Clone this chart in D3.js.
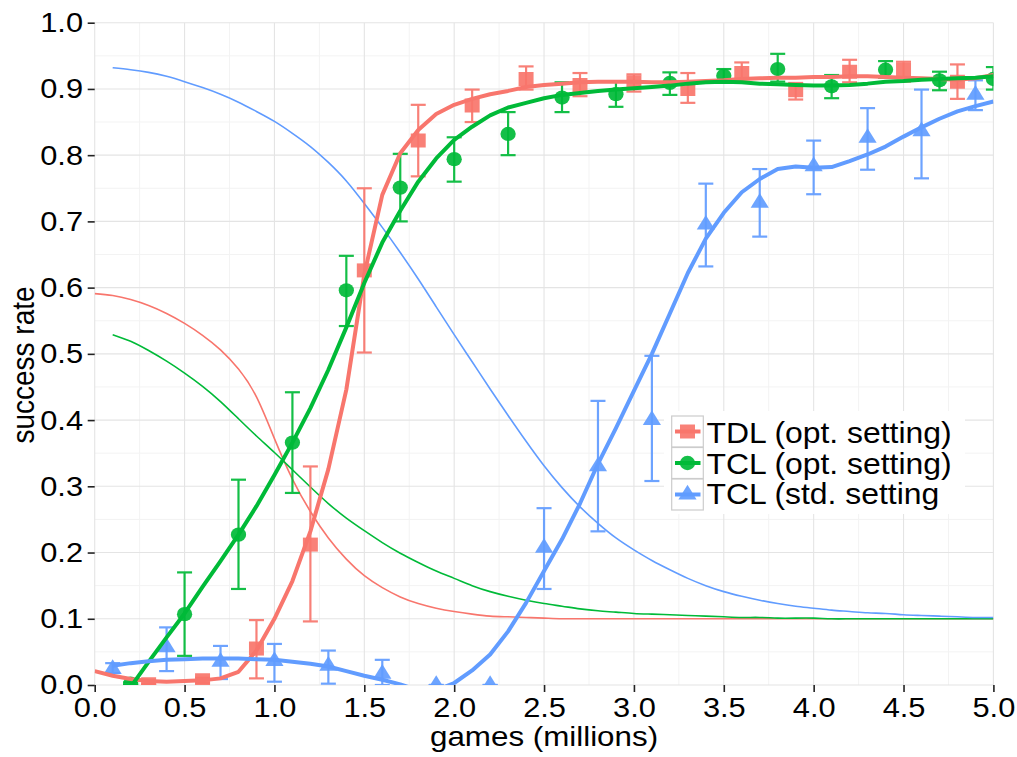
<!DOCTYPE html>
<html>
<head>
<meta charset="utf-8">
<script src="https://cdn.jsdelivr.net/npm/d3@7"></script>
<style>
  body { margin: 0; background: #fff; }
  svg { display: block; font-family: "Liberation Sans", Arial, Helvetica, sans-serif; }
</style>
</head>
<body>
<div id="plot"></div>
<script>
// Points with error bars.
const tdlX  = [0.3, 0.6, 0.9, 1.2, 1.5, 1.8, 2.1, 2.4, 2.7, 3.0, 3.3, 3.6, 3.9, 4.2, 4.5, 4.8];
const tdlY  = [0.001, 0.007, 0.055, 0.212, 0.626, 0.822, 0.875, 0.915, 0.906, 0.910, 0.900, 0.924, 0.898, 0.926, 0.929, 0.911];
const tdlLo = [0.000, 0.003, 0.010, 0.096, 0.502, 0.768, 0.850, 0.899, 0.889, 0.896, 0.879, 0.910, 0.884, 0.910, 0.911, 0.885];
const tdlHi = [0.002, 0.011, 0.098, 0.330, 0.750, 0.876, 0.899, 0.934, 0.924, 0.922, 0.924, 0.940, 0.909, 0.944, 0.941, 0.937];

const tclOptX  = [0.2, 0.5, 0.8, 1.1, 1.4, 1.7, 2.0, 2.3, 2.6, 2.9, 3.2, 3.5, 3.8, 4.1, 4.4, 4.7, 5.0];
const tclOptY  = [0.002, 0.107, 0.227, 0.366, 0.596, 0.751, 0.794, 0.832, 0.887, 0.892, 0.909, 0.920, 0.930, 0.904, 0.929, 0.913, 0.915];
const tclOptLo = [0.000, 0.044, 0.145, 0.290, 0.542, 0.700, 0.760, 0.800, 0.865, 0.873, 0.891, 0.910, 0.911, 0.886, 0.917, 0.898, 0.899];
const tclOptHi = [0.004, 0.170, 0.310, 0.442, 0.648, 0.802, 0.827, 0.865, 0.910, 0.911, 0.925, 0.930, 0.953, 0.921, 0.942, 0.926, 0.933];

const tclStdX  = [0.1, 0.4, 0.7, 1.0, 1.3, 1.6, 1.9, 2.2, 2.5, 2.8, 3.1, 3.4, 3.7, 4.0, 4.3, 4.6, 4.9];
const tclStdY  = [0.024, 0.057, 0.035, 0.036, 0.029, 0.017, 0.000, 0.000, 0.207, 0.330, 0.400, 0.695, 0.728, 0.783, 0.826, 0.836, 0.891];
const tclStdLo = [0.018, 0.021, 0.009, 0.005, 0.002, 0.000, 0.000, 0.000, 0.145, 0.232, 0.308, 0.632, 0.677, 0.741, 0.778, 0.765, 0.868];
const tclStdHi = [0.033, 0.087, 0.059, 0.062, 0.052, 0.038, 0.000, 0.000, 0.267, 0.429, 0.497, 0.757, 0.779, 0.822, 0.871, 0.899, 0.913];

// Curves sampled every 0.1 million games (null = no curve there).
const curveX = [0.0, 0.1, 0.2, 0.3, 0.4, 0.5, 0.6, 0.7, 0.8, 0.9, 1.0, 1.1, 1.2, 1.3, 1.4, 1.5, 1.6, 1.7, 1.8, 1.9,
  2.0, 2.1, 2.2, 2.3, 2.4, 2.5, 2.6, 2.7, 2.8, 2.9, 3.0, 3.1, 3.2, 3.3, 3.4, 3.5, 3.6, 3.7, 3.8, 3.9,
  4.0, 4.1, 4.2, 4.3, 4.4, 4.5, 4.6, 4.7, 4.8, 4.9, 5.0];

// thick smoothed success curves
const tdlSmooth = [0.021, 0.014, 0.009, 0.006, 0.005, 0.006, 0.007, 0.010, 0.020, 0.052, 0.100, 0.157, 0.232, 0.326, 0.446, 0.620, 0.740, 0.803, 0.838, 0.862,
  0.876, 0.885, 0.892, 0.897, 0.903, 0.906, 0.908, 0.910, 0.911, 0.911, 0.911, 0.910, 0.910, 0.911, 0.912, 0.913, 0.915, 0.916, 0.917, 0.917,
  0.918, 0.918, 0.919, 0.919, 0.918, 0.917, 0.916, 0.915, 0.914, 0.916, 0.921];
const tclOptSmooth = [null, null, -0.003, 0.035, 0.072, 0.108, 0.148, 0.187, 0.227, 0.270, 0.317, 0.366, 0.418, 0.476, 0.540, 0.607, 0.668, 0.716, 0.760, 0.795,
  0.823, 0.843, 0.860, 0.872, 0.879, 0.886, 0.891, 0.894, 0.897, 0.899, 0.901, 0.903, 0.905, 0.908, 0.910, 0.911, 0.910, 0.908, 0.907, 0.906,
  0.905, 0.905, 0.906, 0.908, 0.911, 0.912, 0.914, 0.915, 0.916, 0.917, 0.919];
const tclStdSmooth = [null, 0.029, 0.033, 0.036, 0.038, 0.039, 0.040, 0.040, 0.040, 0.039, 0.038, 0.035, 0.032, 0.028, 0.021, 0.014, 0.008, 0.001, -0.008, -0.008,
  0.003, 0.022, 0.046, 0.081, 0.124, 0.172, 0.220, 0.274, 0.334, 0.388, 0.444, 0.500, 0.561, 0.622, 0.674, 0.713, 0.744, 0.764, 0.779, 0.783,
  0.781, 0.782, 0.791, 0.801, 0.813, 0.828, 0.842, 0.855, 0.866, 0.874, 0.881];

// thin decreasing curves
const tdlThin = [0.591, 0.588, 0.582, 0.573, 0.561, 0.546, 0.528, 0.506, 0.477, 0.435, 0.372, 0.311, 0.262, 0.222, 0.190, 0.165, 0.147, 0.133, 0.123, 0.116,
  0.111, 0.107, 0.104, 0.103, 0.102, 0.101, 0.100, 0.100, 0.100, 0.100, 0.100, 0.100, 0.100, 0.100, 0.100, 0.100, 0.100, 0.100, 0.100, 0.100,
  0.100, 0.100, 0.100, 0.100, 0.100, 0.100, 0.100, 0.100, 0.100, 0.100, 0.100];
const tclOptThin = [null, 0.529, 0.519, 0.505, 0.489, 0.471, 0.451, 0.428, 0.402, 0.376, 0.351, 0.325, 0.299, 0.274, 0.252, 0.233, 0.215, 0.199, 0.185, 0.172,
  0.161, 0.150, 0.141, 0.134, 0.128, 0.123, 0.119, 0.115, 0.112, 0.110, 0.108, 0.107, 0.106, 0.105, 0.104, 0.103, 0.102, 0.102, 0.101, 0.101,
  0.101, 0.100, 0.100, 0.100, 0.100, 0.100, 0.100, 0.100, 0.100, 0.100, 0.100];
const tclStdThin = [null, 0.932, 0.929, 0.925, 0.919, 0.911, 0.902, 0.892, 0.880, 0.866, 0.851, 0.833, 0.813, 0.789, 0.761, 0.727, 0.691, 0.653, 0.613, 0.571,
  0.529, 0.488, 0.447, 0.407, 0.368, 0.331, 0.298, 0.269, 0.244, 0.222, 0.204, 0.188, 0.174, 0.161, 0.150, 0.141, 0.134, 0.128, 0.123, 0.119,
  0.116, 0.113, 0.111, 0.109, 0.108, 0.106, 0.105, 0.104, 0.103, 0.102, 0.102];

const seriesNames = ["TDL (opt. setting)", "TCL (opt. setting)", "TCL (std. setting"];
const seriesColors = ["#F8766D", "#00BA38", "#619CFF"];

const xTicks = [0, 0.5, 1, 1.5, 2, 2.5, 3, 3.5, 4, 4.5, 5];
const xMinor = [0.25, 0.75, 1.25, 1.75, 2.25, 2.75, 3.25, 3.75, 4.25, 4.75];
const yTicks = [0, 0.1, 0.2, 0.3, 0.4, 0.5, 0.6, 0.7, 0.8, 0.9, 1];
const yMinor = [0.05, 0.15, 0.25, 0.35, 0.45, 0.55, 0.65, 0.75, 0.85, 0.95];

// Put the series together.
const shapes = [d3.symbolSquare, d3.symbolCircle, d3.symbolTriangle];
const shapeSizes = [196, 160, 125];
const pointSets = [
  [tdlX, tdlY, tdlLo, tdlHi],
  [tclOptX, tclOptY, tclOptLo, tclOptHi],
  [tclStdX, tclStdY, tclStdLo, tclStdHi]
];
const smoothSets = [tdlSmooth, tclOptSmooth, tclStdSmooth];
const thinSets = [tdlThin, tclOptThin, tclStdThin];

const width = 1017, height = 757;
const panel = {left: 94.7, right: 993.4, top: 22.7, bottom: 685};
const stretch = 1.1; // the reference text is a bit wide

const x = d3.scaleLinear([0, 5], [panel.left, panel.right]);
const y = d3.scaleLinear([0, 1], [panel.bottom, panel.top]);

const svg = d3.select("#plot").append("svg")
  .attr("width", width)
  .attr("height", height);

svg.append("defs").append("clipPath")
  .attr("id", "panel-clip")
  .append("rect")
    .attr("x", panel.left)
    .attr("y", panel.top)
    .attr("width", panel.right - panel.left)
    .attr("height", panel.bottom - panel.top);

// Grid, minor then major.
const grid = svg.append("g");
grid.selectAll(".xminor").data(xMinor).join("line")
  .attr("x1", d => x(d)).attr("x2", d => x(d))
  .attr("y1", panel.top).attr("y2", panel.bottom)
  .attr("stroke", "#f3f3f3").attr("stroke-width", 1);
grid.selectAll(".yminor").data(yMinor).join("line")
  .attr("y1", d => y(d)).attr("y2", d => y(d))
  .attr("x1", panel.left).attr("x2", panel.right)
  .attr("stroke", "#f3f3f3").attr("stroke-width", 1);
grid.selectAll(".xmajor").data(xTicks).join("line")
  .attr("x1", d => x(d)).attr("x2", d => x(d))
  .attr("y1", panel.top).attr("y2", panel.bottom)
  .attr("stroke", "#e4e4e4").attr("stroke-width", 1.1);
grid.selectAll(".ymajor").data(yTicks).join("line")
  .attr("y1", d => y(d)).attr("y2", d => y(d))
  .attr("x1", panel.left).attr("x2", panel.right)
  .attr("stroke", "#e4e4e4").attr("stroke-width", 1.1);

const plot = svg.append("g").attr("clip-path", "url(#panel-clip)");

const curvePoints = vals => curveX.map((cx, i) => [cx, vals[i]]);

// thin curves
const thinLine = d3.line()
  .defined(d => d[1] != null)
  .x(d => x(d[0]))
  .y(d => y(d[1]))
  .curve(d3.curveNatural);
thinSets.forEach((vals, i) => {
  plot.append("path")
    .attr("d", thinLine(curvePoints(vals)))
    .attr("fill", "none")
    .attr("stroke", seriesColors[i])
    .attr("stroke-width", 1.6);
});

// error bars and points
pointSets.forEach(([px, py, lo, hi], i) => {
  const g = plot.append("g")
    .attr("stroke", seriesColors[i])
    .attr("stroke-width", 2.2)
    .attr("opacity", 0.92);
  const rows = px.map((v, j) => ({x: v, y: py[j], lo: lo[j], hi: hi[j]}));
  g.selectAll(".bar").data(rows).join("line")
    .attr("x1", d => x(d.x)).attr("x2", d => x(d.x))
    .attr("y1", d => y(d.lo)).attr("y2", d => y(d.hi));
  g.selectAll(".capLo").data(rows).join("line")
    .attr("x1", d => x(d.x) - 7.5).attr("x2", d => x(d.x) + 7.5)
    .attr("y1", d => y(d.lo)).attr("y2", d => y(d.lo));
  g.selectAll(".capHi").data(rows).join("line")
    .attr("x1", d => x(d.x) - 7.5).attr("x2", d => x(d.x) + 7.5)
    .attr("y1", d => y(d.hi)).attr("y2", d => y(d.hi));
  plot.append("g").selectAll("path").data(rows).join("path")
    .attr("d", d3.symbol(shapes[i], shapeSizes[i]))
    .attr("transform", d => `translate(${x(d.x)},${y(d.y)}) scale(1.07,1)`)
    .attr("fill", seriesColors[i])
    .attr("opacity", 0.92);
});

// thick smoothed curves on top
const thickLine = d3.line()
  .defined(d => d[1] != null)
  .x(d => x(d[0]))
  .y(d => y(d[1]));
smoothSets.forEach((vals, i) => {
  plot.append("path")
    .attr("d", thickLine(curvePoints(vals)))
    .attr("fill", "none")
    .attr("stroke", seriesColors[i])
    .attr("stroke-width", 4)
    .attr("stroke-linejoin", "round");
});

// Axes.
const xAxis = svg.append("g")
  .attr("transform", `translate(0, ${panel.bottom})`)
  .call(d3.axisBottom(x).tickValues(xTicks).tickFormat(d3.format(".1f")).tickSize(7).tickPadding(4.7));
const yAxis = svg.append("g")
  .attr("transform", `translate(${panel.left}, 0)`)
  .call(d3.axisLeft(y).tickValues(yTicks).tickFormat(d3.format(".1f")).tickSize(7));
[xAxis, yAxis].forEach(ax => {
  ax.select(".domain").remove();
  ax.selectAll(".tick line").attr("stroke", "#222").attr("stroke-width", 1.6);
  ax.selectAll(".tick text")
    .attr("fill", "#000")
    .style("font-size", "28px")
    .attr("transform", `scale(${stretch},1)`);
});
yAxis.selectAll(".tick text").attr("x", -10.6);

svg.append("text")
  .attr("transform", `translate(${x(2.5)}, 746) scale(${stretch},1)`)
  .attr("text-anchor", "middle")
  .style("font-size", "28.5px")
  .text("games (millions)");

svg.append("text")
  .attr("transform", `translate(33.5, 443.5) scale(1.15,1) rotate(-90)`)
  .attr("text-anchor", "start")
  .style("font-size", "28px")
  .text("success rate");

// Legend inside the panel.
const legend = svg.append("g");
legend.append("rect")
  .attr("x", 664).attr("y", 411)
  .attr("width", 301).attr("height", 103)
  .attr("fill", "#fff");
const rowTops = [416, 447.5, 479];
const baselines = [443.3, 473.8, 504.3];
seriesNames.forEach((name, i) => {
  const cy = rowTops[i] + 15.5;
  legend.append("rect")
    .attr("x", 671.7).attr("y", rowTops[i])
    .attr("width", 31.6).attr("height", 31)
    .attr("fill", "#fff")
    .attr("stroke", "#cccccc")
    .attr("stroke-width", 1.2);
  legend.append("line")
    .attr("x1", 675).attr("x2", 700.5)
    .attr("y1", cy).attr("y2", cy)
    .attr("stroke", seriesColors[i])
    .attr("stroke-width", 4);
  legend.append("path")
    .attr("d", d3.symbol(shapes[i], shapeSizes[i])())
    .attr("transform", `translate(687.5, ${cy}) scale(1.07,1)`)
    .attr("fill", seriesColors[i])
    .attr("opacity", 0.92);
  legend.append("text")
    .attr("transform", `translate(706.5, ${baselines[i]}) scale(${stretch},1)`)
    .style("font-size", "29px")
    .attr("fill", "#000")
    .text(name);
});
</script>
</body>
</html>
